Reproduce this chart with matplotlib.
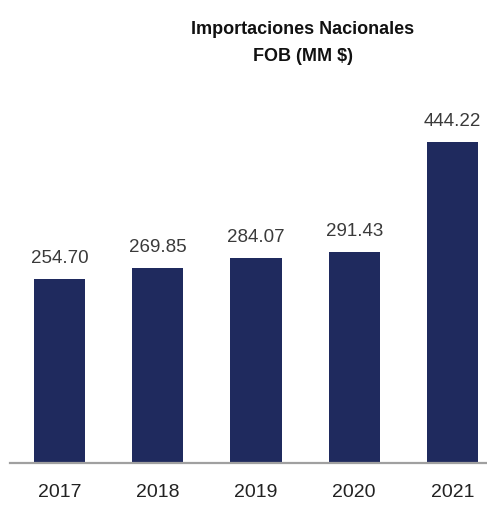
import matplotlib
matplotlib.use("Agg")
import matplotlib.pyplot as plt

years = ["2017", "2018", "2019", "2020", "2021"]
values = [254.70, 269.85, 284.07, 291.43, 444.22]
title = "Importaciones Nacionales\nFOB (MM $)"

fam = ["Liberation Sans", "DejaVu Sans"]

W, H = 487, 508
fig = plt.figure(figsize=(W / 100, H / 100), dpi=100)
ax = fig.add_axes([10 / W, 45 / H, 477 / W, 383 / H])

bar_color = "#1f2a5e"
x = list(range(len(years)))
bars = ax.bar(x, values, width=0.52, color=bar_color)
ax.set_xlim(-0.505, 4.352)
ax.set_ylim(0, 530)

for b, v in zip(bars, values):
    ax.annotate(f"{v:.2f}", (b.get_x() + b.get_width() / 2, v), xytext=(0, 12),
                textcoords="offset pixels", ha="center", va="bottom",
                fontsize=13.5, color="#3a3a3a", family=fam)

for s in ["top", "right", "left"]:
    ax.spines[s].set_visible(False)
ax.spines["bottom"].set_color("#a0a0a0")
ax.spines["bottom"].set_linewidth(1.6)
ax.set_yticks([])
ax.set_xticks(x)
ax.set_xticklabels(years, family=fam, fontsize=14, color="#222222")
ax.tick_params(axis="x", length=0, pad=15)

fig.text(303 / W, 1 - 43 / H, title, ha="center", va="center", fontsize=13,
         fontweight="bold", family=fam, color="#111111",
         linespacing=1.75)

fig.savefig("out.png", dpi=100)
